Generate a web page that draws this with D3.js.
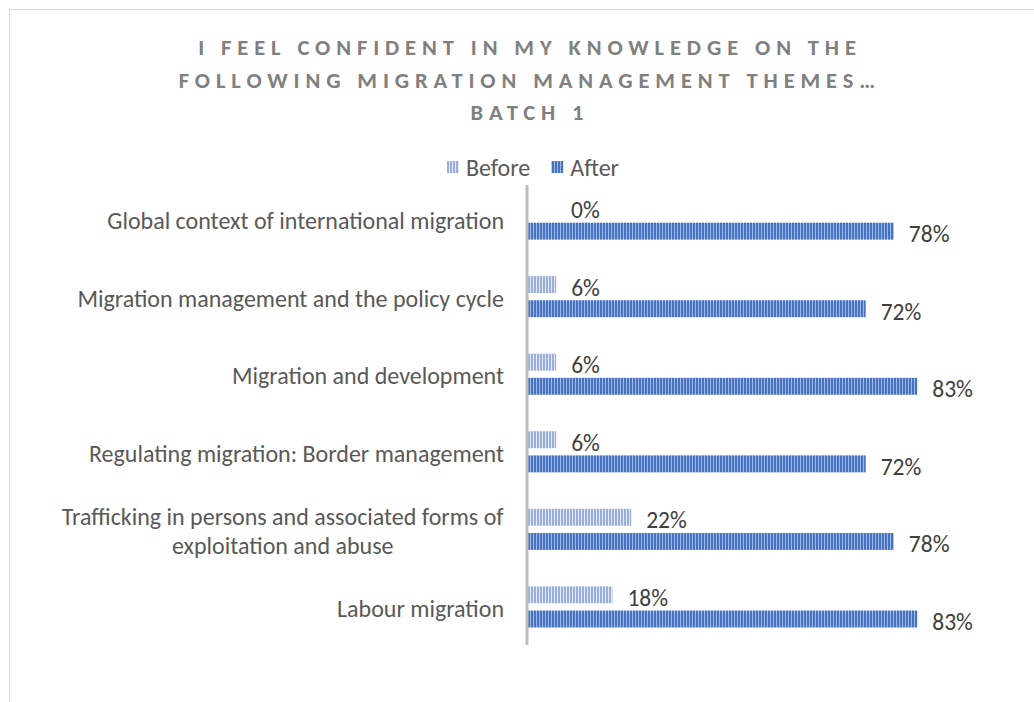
<!DOCTYPE html>
<html>
<head>
<meta charset="utf-8">
<script src="https://cdn.jsdelivr.net/npm/d3@7"></script>
<style>
  body { margin: 0; background: #fff; }
  svg { display: block; }
  text { font-family: Carlito, Lato, "Noto Sans", sans-serif; }
</style>
</head>
<body>
<svg width="1034" height="702"></svg>
<script>
const categories = [
  "Global context of international migration",
  "Migration management and the policy cycle",
  "Migration and development",
  "Regulating migration: Border management",
  "Trafficking in persons and associated forms of|exploitation and abuse",
  "Labour migration"
];
const seriesNames = ["Before", "After"];
const beforeValues = [0, 6, 6, 6, 22, 18];
const afterValues = [78, 72, 83, 72, 78, 83];
const titleLines = [
  "I FEEL CONFIDENT IN MY KNOWLEDGE ON THE",
  "FOLLOWING MIGRATION MANAGEMENT THEMES…",
  "BATCH 1"
];

const svg = d3.select("svg");
const colors = { Before: ["#98AEDE", "#E4EAF6"], After: ["#4472C4", "#A4BAE4"] };

// stripe patterns
const defs = svg.append("defs");
seriesNames.forEach(function(s) {
  const p = defs.append("pattern")
    .attr("id", "pat-" + s)
    .attr("patternUnits", "userSpaceOnUse")
    .attr("width", 3).attr("height", 10);
  p.append("rect").attr("width", 3).attr("height", 10).attr("fill", colors[s][1]);
  p.append("rect").attr("width", 2).attr("height", 10).attr("fill", colors[s][0]);
});

// frame
svg.append("rect")
  .attr("x", 9.5).attr("y", 9.5)
  .attr("width", 1100).attr("height", 800)
  .attr("fill", "none").attr("stroke", "#D9D9D9");

// title
svg.append("g").selectAll("text")
  .data(titleLines)
  .join("text")
  .attr("x", 530)
  .attr("y", (d, i) => 55 + i * 32.5)
  .attr("text-anchor", "middle")
  .attr("fill", "#808080")
  .attr("font-size", 22.5)
  .attr("font-weight", "bold")
  .attr("letter-spacing", 5.9)
  .text(d => d);

const x = d3.scaleLinear().domain([0, 100]).range([528, 997]);
const y0 = d3.scaleBand().domain(categories).range([185, 645]).paddingInner(0.47).paddingOuter(0.2);
const y1 = d3.scaleBand().domain(seriesNames).range([0, y0.bandwidth()]).paddingInner(0.3);

const data = categories.map((c, i) => ({ cat: c, Before: beforeValues[i], After: afterValues[i] }));

const groups = svg.append("g").selectAll("g")
  .data(data)
  .join("g")
  .attr("transform", d => "translate(0," + (y0(d.cat) - 2) + ")");

groups.selectAll("rect")
  .data(d => seriesNames.map(s => ({ s: s, v: d[s] })))
  .join("rect")
  .attr("x", x(0))
  .attr("y", d => y1(d.s))
  .attr("width", d => x(d.v) - x(0))
  .attr("height", y1.bandwidth())
  .attr("fill", d => "url(#pat-" + d.s + ")");

groups.selectAll("text.val")
  .data(d => seriesNames.map(s => ({ s: s, v: d[s] })))
  .join("text")
  .attr("class", "val")
  .attr("x", d => Math.max(x(d.v) + 15, x(0) + 43))
  .attr("y", d => y1(d.s) + y1.bandwidth() / 2 + 11)
  .attr("fill", "#404040")
  .attr("font-size", 23.5)
  .text(d => d.v + "%");

// axis line
svg.append("line")
  .attr("x1", x(0) - 1).attr("x2", x(0) - 1)
  .attr("y1", 185).attr("y2", 645)
  .attr("stroke", "#BFBFBF").attr("stroke-width", 3);

// category labels
const labelRight = 504;
const labels = svg.append("g");
categories.forEach(function(c) {
  const lines = c.split("|");
  const cy = y0(c) + y0.bandwidth() / 2;
  const t = labels.append("text")
    .attr("fill", "#595959")
    .attr("font-size", 24);
  lines.forEach(function(l, i) {
    t.append("tspan").attr("x", 0).attr("y", cy + 8 + (i - (lines.length - 1) / 2) * 29).text(l);
  });
  const w = t.node().getBBox().width;
  t.attr("text-anchor", "middle");
  t.selectAll("tspan").attr("x", labelRight - w / 2);
});

// legend
const legend = svg.append("g");
let lx = 447;
seriesNames.forEach(function(s) {
  legend.append("rect")
    .attr("x", lx).attr("y", 161)
    .attr("width", 12).attr("height", 12)
    .attr("fill", "url(#pat-" + s + ")");
  const t = legend.append("text")
    .attr("x", lx + 19).attr("y", 176)
    .attr("fill", "#595959")
    .attr("font-size", 24)
    .text(s);
  lx += 19 + t.node().getComputedTextLength() + 21;
});
</script>
</body>
</html>
